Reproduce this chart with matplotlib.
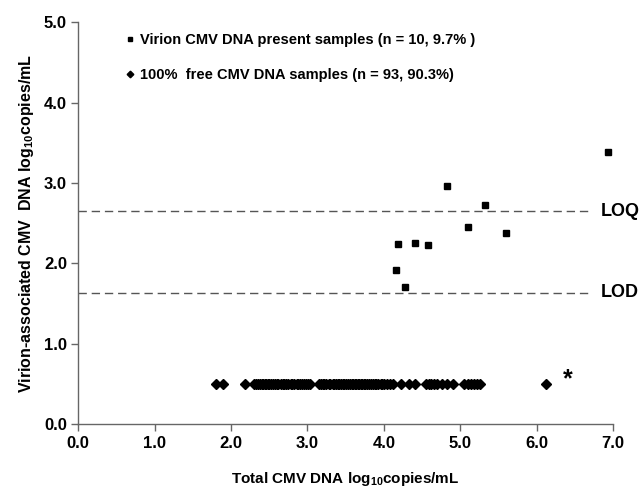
import numpy as np
import matplotlib.pyplot as plt

plt.rcParams['font.family'] = ['Liberation Sans', 'DejaVu Sans']
plt.rcParams['font.weight'] = 'bold'
plt.rcParams['mathtext.fontset'] = 'custom'
plt.rcParams['mathtext.bf'] = 'Liberation Sans:bold'
plt.rcParams['mathtext.rm'] = 'Liberation Sans:bold'
plt.rcParams['mathtext.default'] = 'bf'

# virion CMV DNA present samples (total, virion-associated)
virion_x = [6.93, 4.83, 5.33, 5.10, 5.60, 4.18, 4.41, 4.58, 4.16, 4.28]
virion_y = [3.38, 2.96, 2.72, 2.45, 2.38, 2.24, 2.25, 2.23, 1.92, 1.71]

# 100% free CMV DNA samples, plotted at a fixed baseline
free_x = [1.80, 1.89, 2.19,
          2.30, 2.33, 2.36, 2.38, 2.40, 2.42, 2.44, 2.46, 2.48, 2.50,
          2.52, 2.55, 2.58, 2.60, 2.62, 2.65, 2.68, 2.70, 2.72, 2.75,
          2.78, 2.80, 2.83, 2.86, 2.88, 2.90, 2.93, 2.96, 2.98, 3.01, 3.04,
          3.15, 3.18, 3.20, 3.22, 3.25, 3.28, 3.30, 3.33, 3.35, 3.38,
          3.40, 3.42, 3.44, 3.46, 3.48, 3.50, 3.53, 3.56, 3.58, 3.60,
          3.62, 3.64, 3.66, 3.68, 3.70, 3.72, 3.74, 3.76, 3.78, 3.80,
          3.83, 3.86, 3.88, 3.90, 3.93, 3.96, 3.98, 4.00, 4.04, 4.08, 4.12,
          4.22, 4.33, 4.41,
          4.55, 4.59, 4.62, 4.66, 4.69, 4.76, 4.83, 4.91,
          5.05, 5.10, 5.14, 5.18, 5.22, 5.26,
          6.12]
free_level = 0.5

loq = 2.65
lod = 1.63
line_end = 6.7

xticks = [0, 1, 2, 3, 4, 5, 6, 7]
yticks = [0, 1, 2, 3, 4, 5]

fig = plt.figure(figsize=(6.4, 4.93), dpi=100)
ax = fig.add_axes([0.122, 0.14, 0.836, 0.815])

ax.plot(virion_x, virion_y, 's', color='black', markersize=5, linestyle='none',
        label='Virion CMV DNA present samples (n = 10, 9.7% )')
ax.plot(free_x, [free_level] * len(free_x), 'D', color='black', markersize=4.8,
        linestyle='none', label='100%  free CMV DNA samples (n = 93, 90.3%)')

ax.plot([0, line_end], [loq, loq], color='#555555', lw=1, dashes=(6, 3.5))
ax.plot([0, line_end], [lod, lod], color='#555555', lw=1, dashes=(6, 3.5))
ax.text(6.84, loq, 'LOQ', fontsize=13, fontweight='bold', va='center', ha='left')
ax.text(6.84, lod, 'LOD', fontsize=13, fontweight='bold', va='center', ha='left')
ax.text(6.41, 0.55, '*', fontsize=18, fontweight='bold', va='center', ha='center')

ax.set_xlim(0, 7)
ax.set_ylim(0, 5)
ax.set_xticks(xticks)
ax.set_yticks(yticks)
ax.set_xticklabels(['%.1f' % v for v in xticks], fontsize=12, fontweight='bold')
ax.set_yticklabels(['%.1f' % v for v in yticks], fontsize=12, fontweight='bold')
for s in ['top', 'right']:
    ax.spines[s].set_visible(False)
for s in ['left', 'bottom']:
    ax.spines[s].set_color('#666666')
    ax.spines[s].set_linewidth(1)
ax.tick_params(direction='out', length=5, width=1, color='#666666', pad=3)
ax.tick_params(axis='x', pad=4)

ax.set_xlabel(r'Total CMV DNA log$_{10}$copies/mL', fontsize=11, fontweight='bold', labelpad=13)
ax.set_ylabel(r'Virion-associated CMV  DNA log$_{10}$copies/mL', fontsize=11.5, fontweight='bold', labelpad=6)

ax.legend(loc='upper left', bbox_to_anchor=(0.058, 1.005), frameon=False,
          handletextpad=0.2, labelspacing=1.45, handlelength=1.0, markerscale=0.7,
          prop={'weight': 'bold', 'size': 10.5})

fig.savefig('out.png', dpi=100)
